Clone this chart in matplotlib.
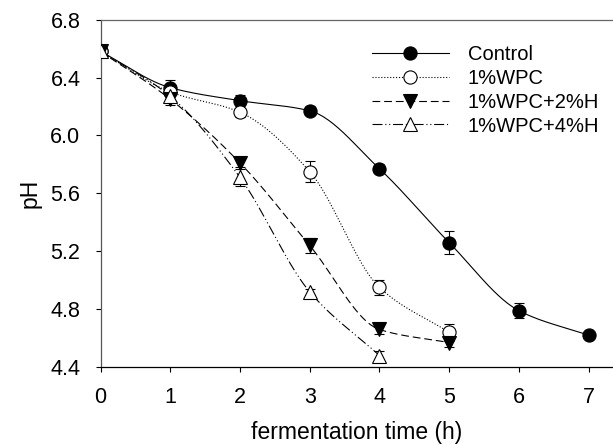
import numpy as np
import matplotlib
matplotlib.use("Agg")
import matplotlib.pyplot as plt

plt.rcParams['font.family'] = ['Liberation Sans', 'DejaVu Sans']

# data
time_control = [0, 1, 2, 3, 4, 5, 6, 7]
ph_control = [6.58, 6.33, 6.24, 6.17, 5.77, 5.26, 4.79, 4.62]
err_control = [0.02, 0.05, 0.04, 0.03, 0.03, 0.08, 0.05, 0.02]

time_wpc = [0, 1, 2, 3, 4, 5]
ph_wpc = [6.58, 6.30, 6.16, 5.75, 4.95, 4.64]
err_wpc = [0.02, 0.05, 0.03, 0.07, 0.05, 0.06]

time_h2 = [0, 1, 2, 3, 4, 5]
ph_h2 = [6.58, 6.25, 5.81, 5.24, 4.66, 4.57]
err_h2 = [0.02, 0.04, 0.03, 0.05, 0.03, 0.03]

time_h4 = [0, 1, 2, 3, 4]
ph_h4 = [6.58, 6.27, 5.71, 4.92, 4.48]
err_h4 = [0.02, 0.04, 0.06, 0.02, 0.03]

labels = ["Control", "1%WPC", "1%WPC+2%H", "1%WPC+4%H"]


def smooth(x, y, n=200):
    #monotone cubic curve through the points
    x = np.asarray(x, float)
    y = np.asarray(y, float)
    h = np.diff(x)
    d = np.diff(y) / h
    m = np.zeros(len(x))
    m[0] = d[0]
    m[-1] = d[-1]
    for k in range(1, len(x) - 1):
        if d[k - 1] * d[k] > 0:
            w1 = 2 * h[k] + h[k - 1]
            w2 = h[k] + 2 * h[k - 1]
            m[k] = (w1 + w2) / (w1 / d[k - 1] + w2 / d[k])
    xs = np.linspace(x[0], x[-1], n)
    idx = np.clip(np.searchsorted(x, xs) - 1, 0, len(x) - 2)
    t = (xs - x[idx]) / h[idx]
    h00 = 2 * t**3 - 3 * t**2 + 1
    h10 = t**3 - 2 * t**2 + t
    h01 = -2 * t**3 + 3 * t**2
    h11 = t**3 - t**2
    ys = h00 * y[idx] + h10 * h[idx] * m[idx] + h01 * y[idx + 1] + h11 * h[idx] * m[idx + 1]
    return xs, ys


fig = plt.figure(figsize=(6.13, 4.45), dpi=100)
ax = fig.add_axes([0.164, 0.175, 0.836, 0.781])

series = [
    (time_control, ph_control, err_control, '-', 'o', 'black'),
    (time_wpc, ph_wpc, err_wpc, ':', 'o', 'white'),
    (time_h2, ph_h2, err_h2, (0, (7, 3.5)), 'v', 'black'),
    (time_h4, ph_h4, err_h4, (0, (9, 2.5, 1, 2.5, 1, 2.5)), '^', 'white'),
]

handles = []
for (t, ph, err, ls, mk, fc), lab in zip(series, labels):
    xs, ys = smooth(t, ph)
    ax.plot(xs, ys, color='black', lw=0.8, ls=ls, zorder=2)
    ax.errorbar(t, ph, yerr=err, fmt='none', ecolor='black', elinewidth=0.8,
                capsize=3.5, capthick=0.8, zorder=3)
    ax.plot(t, ph, ls='none', marker=mk, ms=9.5, mfc=fc, mec='black', mew=0.8, zorder=4)
    h, = ax.plot([], [], color='black', lw=0.8, ls=ls, marker=mk, ms=9.5,
                 mfc=fc, mec='black', mew=0.8)
    handles.append(h)

ax.set_xlim(0, 7.35)
ax.set_ylim(4.4, 6.8)
ax.set_xticks(range(0, 8))
ax.set_yticks([4.4, 4.8, 5.2, 5.6, 6.0, 6.4, 6.8])
ax.set_yticklabels(['4.4', '4.8', '5.2', '5.6', '6.0', '6.4', '6.8'])
ax.tick_params(direction='out', length=3.5, width=0.8, labelsize=15.5)
ax.tick_params(axis='x', pad=11)
ax.tick_params(axis='y', pad=11)

ax.spines['right'].set_visible(False)
ax.spines['top'].set_color('#666666')
ax.spines['left'].set_color('#555555')
ax.spines['bottom'].set_color('black')
for s in ax.spines.values():
    s.set_linewidth(0.9)

ax.set_xlabel("fermentation time (h)", fontsize=16.5, labelpad=9)
ax.set_ylabel("pH", fontsize=16.5, labelpad=6)

ax.legend(handles, labels, loc='upper left', bbox_to_anchor=(372 / 613, 1 - 45 / 445),
          bbox_transform=fig.transFigure, frameon=False, fontsize=14.5,
          handlelength=3.8, handletextpad=0.95, labelspacing=0.24, borderpad=0,
          borderaxespad=0)

fig.savefig("out.png", dpi=100)
